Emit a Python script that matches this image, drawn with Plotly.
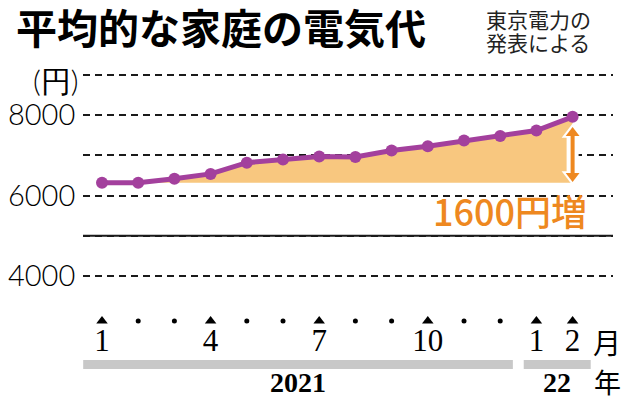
import plotly.graph_objects as go

# ---------------- data ----------------
months = ["2021-01", "2021-02", "2021-03", "2021-04", "2021-05", "2021-06", "2021-07",
          "2021-08", "2021-09", "2021-10", "2021-11", "2021-12", "2022-01", "2022-02"]
month_labels = ["1", "", "", "4", "", "", "7", "", "", "10", "", "", "1", "2"]
values = [6320, 6320, 6420, 6540, 6820, 6900, 6970, 6960, 7120, 7230, 7370, 7480, 7620, 7960]
y_tick_vals = [4000, 5000, 6000, 7000, 8000, 9000]
y_tick_text = ["4000", "", "6000", "", "8000", ""]
year_labels = ["2021", "22"]
year_first_idx = [0, 12]
year_last_idx = [11, 13]

# ---------------- styling ----------------
PURPLE = "#A3409D"
FILL = "#F8C77F"
ORANGE = "#EE8820"
GRID = "#1a1a1a"
OFF = 8                      # default page body margin
W, H = 640 - OFF, 399 - OFF
PLOT_L, PLOT_R = 83, 613     # plot area in screen pixels
ML, MR = PLOT_L - OFF, 640 - PLOT_R

x_idx = list(range(len(values)))
X_RANGE = [-0.525, 14.116]
PX_PER_UNIT = 0.0402         # vertical pixels per yen
Y_TOP = 4000 + (276 - OFF) / PX_PER_UNIT
Y_BOT = 4000 - (399 - 276) / PX_PER_UNIT
Y_RANGE = [Y_BOT, Y_TOP]


def px_to_y(p):
    # screen row -> data value on y axis
    return 4000 + (276 - p) / PX_PER_UNIT


def px_to_x(p):
    return X_RANGE[0] + (p - PLOT_L) / (PLOT_R - PLOT_L) * (X_RANGE[1] - X_RANGE[0])


def pxx(p):
    return (p - PLOT_L) / (PLOT_R - PLOT_L)


def pxy(p):
    return (399 - p) / (399 - OFF)


fig = go.Figure()

# baseline for the shaded increase area
fig.add_trace(go.Scatter(x=x_idx, y=[values[0]] * len(values), mode="lines",
                         line=dict(width=0, color=FILL), hoverinfo="skip"))
fig.add_trace(go.Scatter(x=x_idx, y=values, mode="lines", fill="tonexty",
                         fillcolor=FILL, line=dict(width=0, color=FILL), hoverinfo="skip"))

# month markers along the bottom
tick_y = px_to_y(321)
tri_x = [i for i, m in zip(x_idx, month_labels) if m]
dot_x = [i for i, m in zip(x_idx, month_labels) if not m]
fig.add_trace(go.Scatter(x=tri_x, y=[tick_y] * len(tri_x), mode="markers",
                         marker=dict(symbol="triangle-up", size=10, color="black"),
                         cliponaxis=False))
fig.add_trace(go.Scatter(x=dot_x, y=[tick_y] * len(dot_x), mode="markers",
                         marker=dict(symbol="circle", size=5, color="black"),
                         cliponaxis=False))
fig.add_trace(go.Scatter(x=x_idx, y=[px_to_y(343)] * len(x_idx), mode="text",
                         text=month_labels, textposition="middle center",
                         textfont=dict(family="Liberation Serif", size=31, color="black"),
                         cliponaxis=False))

# year bars
bar_pad_l = [0.52, 0.35]
bar_pad_r = [0.35, 0.5]
for lab, a, b, pl, pr in zip(year_labels, year_first_idx, year_last_idx, bar_pad_l, bar_pad_r):
    x0, x1 = a - pl, b + pr
    fig.add_shape(type="rect", xref="x", yref="y", x0=x0, x1=x1,
                  y0=px_to_y(369), y1=px_to_y(360), fillcolor="#C8C8C8", line=dict(width=0))
    fig.add_annotation(x=(x0 + x1) / 2, y=px_to_y(382), xref="x", yref="y", text=lab,
                       showarrow=False, xanchor="center", yanchor="middle",
                       font=dict(family="Liberation Serif", size=28,
                                 color="black", weight="bold"))

# solid line at 5000
fig.add_shape(type="line", xref="paper", yref="y", x0=0, x1=1, y0=5000, y1=5000,
              line=dict(color=GRID, width=2))
# white gap in the 6000 grid line behind the label
fig.add_shape(type="rect", xref="x", yref="y", x0=px_to_x(422), x1=px_to_x(593),
              y0=px_to_y(202), y1=px_to_y(190), fillcolor="white", line=dict(width=0),
              layer="below")

# double arrow showing the increase (white outline + orange)
ax_x = x_idx[-1]
shaft_top, shaft_bot = px_to_y(133), px_to_y(176)
for col, lw, ms in [("white", 12, 19), (ORANGE, 4, 12)]:
    fig.add_trace(go.Scatter(x=[ax_x, ax_x], y=[shaft_top, shaft_bot], mode="lines",
                             line=dict(color=col, width=lw), hoverinfo="skip"))
    fig.add_trace(go.Scatter(x=[ax_x, ax_x], y=[shaft_top, shaft_bot], mode="markers",
                             marker=dict(symbol=["triangle-up", "triangle-down"],
                                         size=ms, color=col, line=dict(width=0)),
                             hoverinfo="skip"))

# main line
fig.add_trace(go.Scatter(x=x_idx, y=values, mode="lines+markers",
                         line=dict(color=PURPLE, width=5),
                         marker=dict(color=PURPLE, size=12), cliponaxis=False))


# texts
def text_at(px, py, txt, font, xanchor="center"):
    fig.add_annotation(xref="paper", yref="paper", x=pxx(px), y=pxy(py), text=txt,
                       showarrow=False, xanchor=xanchor, yanchor="middle", font=font)


text_at(510, 210, "1600円増",
        dict(family="Noto Sans CJK JP", size=36, color=ORANGE, weight=500))
text_at(80, 80, "(円)", dict(family="Lato", size=30, color="black", weight=300), "right")
text_at(14, 26, "平均的な家庭の電気代",
        dict(family="Noto Sans CJK JP", size=41, color="black", weight="bold"), "left")
text_at(538, 19, "東京電力の", dict(family="Noto Sans CJK JP", size=21, color="#222"))
text_at(538, 42, "発表による", dict(family="Noto Sans CJK JP", size=21, color="#222"))
text_at(607, 342, "月", dict(family="Noto Sans CJK JP", size=28, color="black"))
text_at(607, 381, "年", dict(family="Noto Sans CJK JP", size=27, color="black"))

fig.update_layout(
    width=W, height=H, margin=dict(l=ML, r=MR, t=0, b=0, autoexpand=False),
    plot_bgcolor="white", paper_bgcolor="white", showlegend=False,
    xaxis=dict(range=X_RANGE, visible=False, fixedrange=True, automargin=False),
    yaxis=dict(range=Y_RANGE, tickvals=y_tick_vals, ticktext=y_tick_text,
               showgrid=True, gridcolor=GRID, gridwidth=1.5, griddash="7px,5px",
               zeroline=False, showline=False, ticks="outside", ticklen=1,
               tickcolor="rgba(0,0,0,0)", automargin=False, fixedrange=True,
               tickfont=dict(family="Lato", size=29, color="black", weight=300)),
)

fig.write_html("out.html")
